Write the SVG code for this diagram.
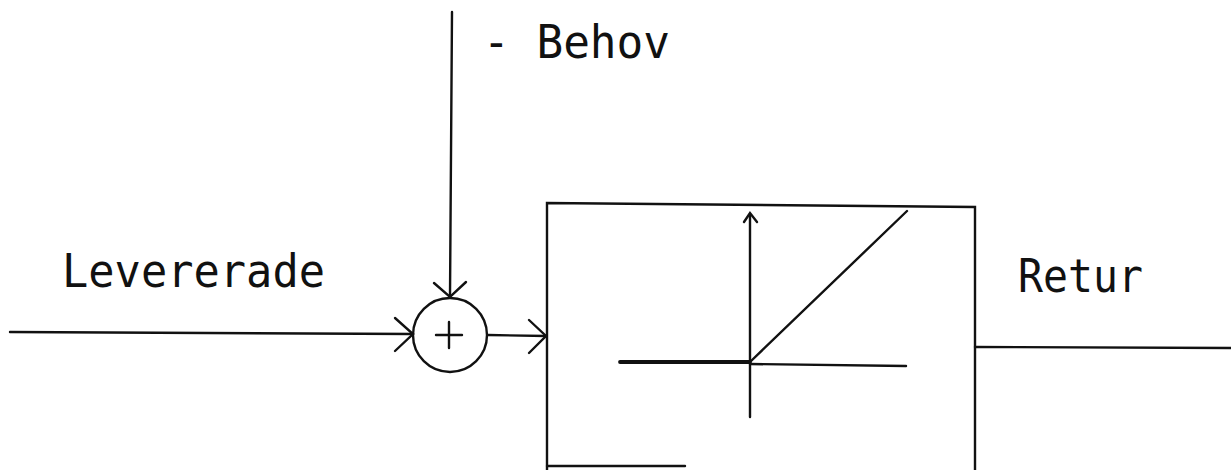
<svg xmlns="http://www.w3.org/2000/svg" width="1231" height="470" viewBox="0 0 1231 470">
<style>
.ln{stroke:#111;stroke-width:2.4;fill:none;stroke-linecap:round}
.lbl{font-family:"DejaVu Sans Mono","Liberation Mono",monospace;font-size:46px;fill:#111;font-weight:normal}
</style>
<rect width="1231" height="470" fill="#fff"/>
<g id="connectors">
<line class="ln" x1="10" y1="332" x2="413" y2="334"/>
<polyline class="ln" points="395,318 413,334 395,351"/>
<line class="ln" x1="452" y1="12" x2="450" y2="297"/>
<polyline class="ln" points="434,283 450,297 466,282"/>
<line class="ln" x1="488" y1="335" x2="546" y2="336"/>
<polyline class="ln" points="529,320 546,336 529,353"/>
<line class="ln" x1="975" y1="347" x2="1231" y2="348"/>
</g>
<g id="sum">
<circle class="ln" cx="450" cy="335" r="37"/>
<line class="ln" x1="436" y1="335" x2="462" y2="335"/>
<line class="ln" x1="449" y1="322" x2="449" y2="348"/>
</g>
<g id="block">
<polyline class="ln" points="547,470 547,203 975,207 975,470"/>
<line class="ln" x1="547" y1="466" x2="685" y2="466"/>
<line class="ln" x1="750" y1="214" x2="750" y2="417"/>
<polyline class="ln" points="744,222 750,213 757,222"/>
<line class="ln" x1="620" y1="362" x2="750" y2="362" style="stroke-width:3.8"/>
<line class="ln" x1="750" y1="364" x2="906" y2="366"/>
<line class="ln" x1="750" y1="362" x2="907" y2="211"/>
</g>
<g id="labels">
<text class="lbl" x="62" y="287" textLength="263" lengthAdjust="spacingAndGlyphs">Levererade</text>
<text class="lbl" x="1018" y="292" textLength="125" lengthAdjust="spacingAndGlyphs">Retur</text>
<text class="lbl" x="483" y="58" textLength="187" lengthAdjust="spacingAndGlyphs">- Behov</text>
</g>
</svg>
